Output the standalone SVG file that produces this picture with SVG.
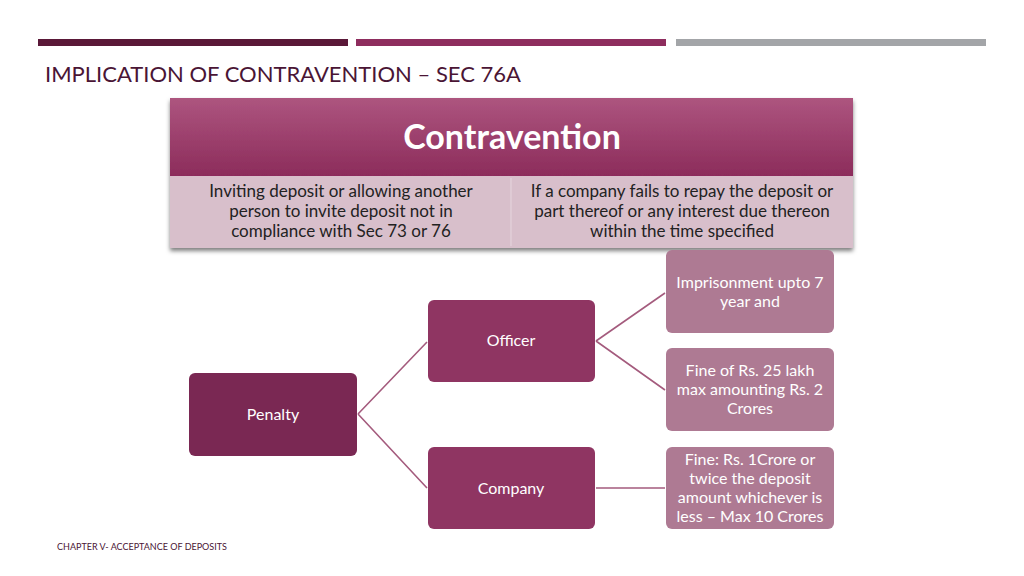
<svg xmlns="http://www.w3.org/2000/svg" width="1024" height="576" viewBox="0 0 1024 576">
<defs>
<linearGradient id="hg" x1="0" y1="0" x2="0" y2="1"><stop offset="0" stop-color="#ad557f"/><stop offset="1" stop-color="#8c2c5b"/></linearGradient>
<filter id="sh" x="-5%" y="-10%" width="110%" height="125%"><feDropShadow dx="0" dy="3" stdDeviation="2" flood-color="#000" flood-opacity="0.5"/></filter>
</defs>
<style>
text{font-family:Lato,"Open Sans","Liberation Sans",sans-serif}
.w{fill:#fff;font-size:16px;text-anchor:middle}
.d{fill:#222;font-size:17px;text-anchor:middle}
.c{stroke:#a45b7d;stroke-width:1.6;fill:none}
</style>
<rect width="1024" height="576" fill="#fff"/>
<rect x="38" y="39" width="310" height="7" fill="#5a1838"/>
<rect x="356" y="39" width="310" height="7" fill="#8e2d5e"/>
<rect x="676" y="39" width="310" height="7" fill="#a3a5a8"/>
<text x="45" y="82" font-size="22" fill="#4a1535">IMPLICATION OF CONTRAVENTION – SEC 76A</text>
<g id="contravention" filter="url(#sh)">
<rect x="170" y="98" width="683" height="78" fill="url(#hg)"/>
<rect x="170" y="176" width="683" height="72" fill="#d8bfcb"/>
<line x1="511" y1="178" x2="511" y2="246" stroke="#e6d6de"/>
</g>
<text x="512" y="149" font-size="34" font-weight="bold" fill="#fff" text-anchor="middle">Contravention</text>
<text class="d"><tspan x="341" y="197">Inviting deposit or allowing another</tspan><tspan x="341" y="217">person to invite deposit not in</tspan><tspan x="341" y="237">compliance with Sec 73 or 76</tspan></text>
<text class="d"><tspan x="682" y="197">If a company fails to repay the deposit or</tspan><tspan x="682" y="217">part thereof or any interest due thereon</tspan><tspan x="682" y="237">within the time specified</tspan></text>
<g id="connectors">
<path class="c" d="M358 414 L427 342 M358 414 L427 488 M596 341 L665 293 M596 341 L665 390 M596 488 L665 488"/>
</g>
<g id="penalty"><rect x="189" y="373" width="168" height="83" rx="6" fill="#7a2853"/><text class="w" x="273" y="420">Penalty</text></g>
<g id="officer"><rect x="428" y="300" width="167" height="82" rx="6" fill="#8f3562"/><text class="w" x="511" y="346">Officer</text></g>
<g id="company"><rect x="428" y="447" width="167" height="82" rx="6" fill="#8f3562"/><text class="w" x="511" y="494">Company</text></g>
<g id="imprisonment"><rect x="666" y="250" width="168" height="83" rx="6" fill="#ae7a93"/><text class="w"><tspan x="750" y="288">Imprisonment upto 7</tspan><tspan x="750" y="307">year and</tspan></text></g>
<g id="fine-officer"><rect x="666" y="348" width="168" height="83" rx="6" fill="#ae7a93"/><text class="w"><tspan x="750" y="376">Fine of Rs. 25 lakh</tspan><tspan x="750" y="395">max amounting Rs. 2</tspan><tspan x="750" y="414">Crores</tspan></text></g>
<g id="fine-company"><rect x="666" y="447" width="168" height="82" rx="6" fill="#ae7a93"/><text class="w"><tspan x="750" y="465">Fine: Rs. 1Crore or</tspan><tspan x="750" y="484">twice the deposit</tspan><tspan x="750" y="503">amount whichever is</tspan><tspan x="750" y="522">less – Max 10 Crores</tspan></text></g>
<text x="57" y="550" font-size="9" fill="#4a1535">CHAPTER V- ACCEPTANCE OF DEPOSITS</text>
</svg>
